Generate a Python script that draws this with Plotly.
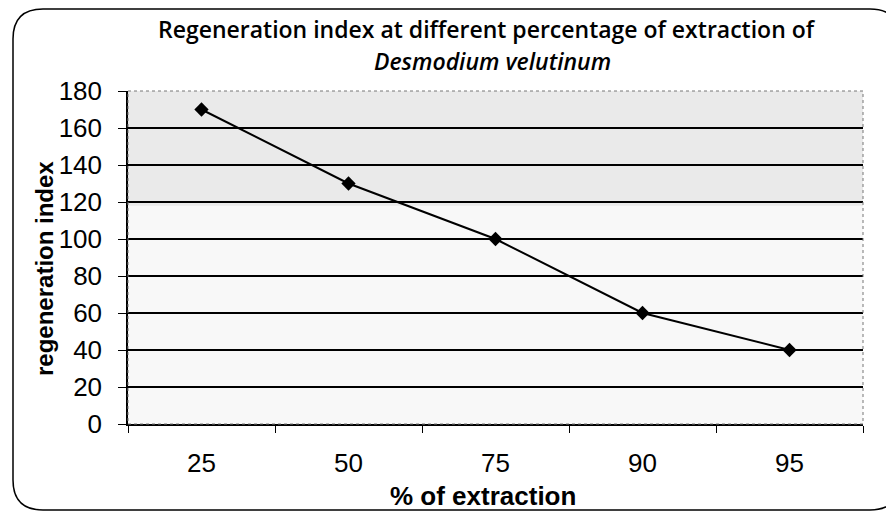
import plotly.graph_objects as go

extraction = ["25", "50", "75", "90", "95"]
regen_index = [170, 130, 100, 60, 40]
y_ticks = [0, 20, 40, 60, 80, 100, 120, 140, 160, 180]
title_line1 = "Regeneration index at different percentage of extraction of"
title_line2 = "Desmodium velutinum"
x_title = "% of extraction"
y_title = "regeneration index"

W, H = 886, 513
L, R, T, B = 128, 23, 91, 89
PW, PH = W - L - R, H - T - B

def px(x):
    return (x - L) / PW

def py(y):
    return (H - B - y) / PH

fig = go.Figure()

# scanned-paper toned band in upper part of plot
fig.add_shape(type="rect", xref="paper", yref="y", x0=0, x1=1, y0=118, y1=180,
              fillcolor="#eaeaea", line=dict(width=0), layer="below")

fig.add_trace(go.Scatter(
    x=extraction, y=regen_index, mode="lines+markers",
    line=dict(color="black", width=2),
    marker=dict(symbol="diamond", size=11, color="black"),
    showlegend=False,
))

# rounded chart border
x0, x1, y0, y1, r = 13, 900, 9, 510, 30
path = (f"M {px(x0+r)},{py(y0)} L {px(x1-r)},{py(y0)} "
        f"Q {px(x1)},{py(y0)} {px(x1)},{py(y0+r)} L {px(x1)},{py(y1-r)} "
        f"Q {px(x1)},{py(y1)} {px(x1-r)},{py(y1)} L {px(x0+r)},{py(y1)} "
        f"Q {px(x0)},{py(y1)} {px(x0)},{py(y1-r)} L {px(x0)},{py(y0+r)} "
        f"Q {px(x0)},{py(y0)} {px(x0+r)},{py(y0)} Z")
fig.add_shape(type="path", path=path, xref="paper", yref="paper",
              line=dict(color="black", width=1.5), layer="above")
# plot-area frame (thin, grey)
fig.add_shape(type="rect", x0=0, x1=1, y0=0, y1=1, xref="paper", yref="paper",
              line=dict(color="#777777", width=1, dash="dot"), layer="above")

title_font = dict(family="Open Sans", size=23, color="black", weight=600)
fig.add_annotation(text=title_line1, xref="paper", yref="paper",
                   x=px(487), y=py(29), xanchor="center", yanchor="middle",
                   showarrow=False, font=title_font)
fig.add_annotation(text=f"<i>{title_line2}</i>", xref="paper", yref="paper",
                   x=px(492), y=py(61), xanchor="center", yanchor="middle",
                   showarrow=False, font=title_font)
fig.add_annotation(text=f"<b>{x_title}</b>", xref="paper", yref="paper",
                   x=px(483), y=py(496), xanchor="center", yanchor="middle",
                   showarrow=False,
                   font=dict(family="Liberation Sans", size=26, color="black"))
fig.add_annotation(text=f"<b>{y_title}</b>", xref="paper", yref="paper",
                   x=px(44), y=py(269), xanchor="center", yanchor="middle",
                   textangle=-90, showarrow=False,
                   font=dict(family="Liberation Sans", size=24, color="black"))

fig.update_layout(
    width=W, height=H,
    margin=dict(l=L, r=R, t=T, b=B),
    paper_bgcolor="white",
    plot_bgcolor="#f8f8f8",
    xaxis=dict(
        type="category", range=[-0.5, 4.5],
        showline=True, linecolor="black", linewidth=1.5,
        ticks="outside", ticklen=7, tickcolor="black", tickson="boundaries",
        tickfont=dict(family="Liberation Sans", size=26, color="black"),
        ticklabelstandoff=15,
        showgrid=False,
    ),
    yaxis=dict(
        range=[0, 180], tickvals=y_ticks, ticktext=[str(v) for v in y_ticks],
        showline=True, linecolor="black", linewidth=1.5,
        ticks="outside", ticklen=8, tickcolor="black",
        tickfont=dict(family="Liberation Sans", size=26, color="black"),
        ticklabelstandoff=11,
        showgrid=True, gridcolor="black", gridwidth=1.5,
        zeroline=False,
    ),
)

fig.write_html("out.html", config={"displayModeBar": False},
               post_script="document.body.style.margin='0';")
